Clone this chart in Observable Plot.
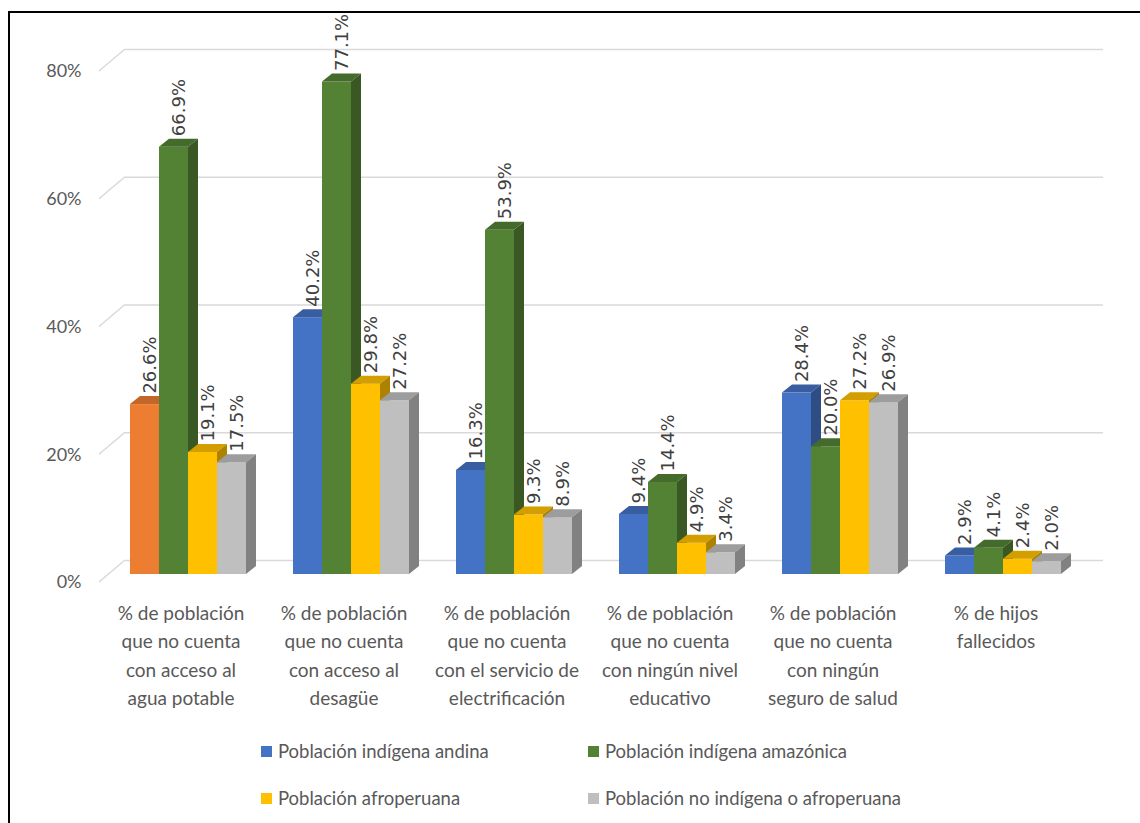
<!DOCTYPE html>
<html>
<head>
<meta charset="utf-8">
<script src="https://cdn.jsdelivr.net/npm/d3@7"></script>
<script src="https://cdn.jsdelivr.net/npm/@observablehq/plot@0.6"></script>
<style>
  html, body { margin: 0; padding: 0; background: #fff; }
  #chart { position: relative; width: 1140px; height: 823px; overflow: hidden; }
  #plot { position: absolute; left: 0; top: 0; }
  .frame-border { position: absolute; left: 8px; top: 11px; right: -10px; bottom: -10px;
    border-left: 2px solid #000; border-top: 2px solid #000; }
  .legend { position: absolute; left: 0; top: 0; font-family: Lato, sans-serif; font-size: 18.5px; color: #595959; }
  .legend .item { position: absolute; height: 24px; display: flex; align-items: center; white-space: nowrap; }
  .legend .swatch { width: 11px; height: 11px; margin-right: 6px; flex: none; }
</style>
</head>
<body>
<div id="chart">
  <div id="plot"></div>
  <div class="frame-border"></div>
  <div class="legend" id="legend"></div>
</div>
<script>
// Indicators (x categories), one multi-line label each
const categories = [
  "% de población\nque no cuenta\ncon acceso al\nagua potable",
  "% de población\nque no cuenta\ncon acceso al\ndesagüe",
  "% de población\nque no cuenta\ncon el servicio de\nelectrificación",
  "% de población\nque no cuenta\ncon ningún nivel\neducativo",
  "% de población\nque no cuenta\ncon ningún\nseguro de salud",
  "% de hijos\nfallecidos"
];

// Population groups
const series = [
  "Población indígena andina",
  "Población indígena amazónica",
  "Población afroperuana",
  "Población no indígena o afroperuana"
];

// Values (%) per group, in category order
const andina     = [26.6, 40.2, 16.3, 9.4, 28.4, 2.9];
const amazonica  = [66.9, 77.1, 53.9, 14.4, 20.0, 4.1];
const afro       = [19.1, 29.8, 9.3, 4.9, 27.2, 2.4];
const noIndigena = [17.5, 27.2, 8.9, 3.4, 26.9, 2.0];
const seriesValues = [andina, amazonica, afro, noIndigena];

// Y axis ticks
const yTicks = [0, 20, 40, 60, 80];

// Styling
const seriesColors = ["#4472C4", "#548235", "#FFC000", "#BFBFBF"];
const highlightColor = "#ED7D31";   // the andina bar for drinking water is emphasised
const gridColor = "#D9D9D9";
const WALL = {dx: 26, dy: -22};     // offset from the front plane to the back wall
const SHIFT = {dx: 9, dy: -8};      // bars stand a little behind the front plane
const DEPTH = {dx: 10, dy: -8};     // depth of each bar

const rows = categories.flatMap((category, i) =>
  series.map((s, j) => ({
    category,
    series: s,
    value: seriesValues[j][i],
    color: (i === 0 && j === 0) ? highlightColor : seriesColors[j]
  }))
);

// Bars drawn as extruded boxes: front face, top face, side face
function bars3d(data) {
  return Plot.barY(data, {
    fx: "category",
    x: "series",
    y: "value",
    render(index, scales, values) {
      const g = d3.create("svg:g");
      const bw = typeof scales.x.bandwidth === "function" ? scales.x.bandwidth() : scales.scales.x.bandwidth;
      for (const i of index) {
        const x = values.x[i] + SHIFT.dx;
        const yTop = Math.min(values.y1[i], values.y2[i]) + SHIFT.dy;
        const yBase = Math.max(values.y1[i], values.y2[i]) + SHIFT.dy;
        const base = d3.color(data[i].color);
        g.append("rect")
          .attr("x", x).attr("y", yTop)
          .attr("width", bw).attr("height", yBase - yTop)
          .attr("fill", base.formatHex());
        g.append("polygon")
          .attr("points", [[x, yTop], [x + bw, yTop], [x + bw + DEPTH.dx, yTop + DEPTH.dy], [x + DEPTH.dx, yTop + DEPTH.dy]].join(" "))
          .attr("fill", base.darker(0.55).formatHex());
        g.append("polygon")
          .attr("points", [[x + bw, yTop], [x + bw + DEPTH.dx, yTop + DEPTH.dy], [x + bw + DEPTH.dx, yBase + DEPTH.dy], [x + bw, yBase]].join(" "))
          .attr("fill", base.darker(1.1).formatHex());
      }
      return g.node();
    }
  });
}

// Short diagonals joining the front plane to the back wall, on the left edge
const wallEdges = Plot.ruleY(yTicks, {
  fx: yTicks.map(() => categories[0]),
  y: d => d,
  render(index, scales, values) {
    const g = d3.create("svg:g");
    const x0 = scales.x.range()[0];
    for (const i of index) {
      const y = values.y[i];
      g.append("path")
        .attr("d", `M${x0},${y}L${x0 + WALL.dx},${y + WALL.dy}`)
        .attr("stroke", gridColor).attr("stroke-width", 1.5).attr("fill", "none");
    }
    return g.node();
  }
});

const chart = Plot.plot({
  width: 1140,
  height: 720,
  marginLeft: 98,
  marginRight: 62,
  marginTop: 71,
  marginBottom: 138,
  style: {fontFamily: "Lato, sans-serif", fontSize: "18px", color: "#595959", background: "transparent", overflow: "visible"},
  fx: {domain: categories, paddingInner: 0, paddingOuter: 0, axis: null},
  x: {domain: series, paddingInner: 0, paddingOuter: 0.7545, align: 0.47, axis: null},
  y: {domain: [0, 80], nice: false, ticks: yTicks, tickFormat: d => d + "%", tickSize: 0, tickPadding: 18, label: null},
  marks: [
    wallEdges,
    Plot.ruleY(yTicks, {dx: WALL.dx, dy: WALL.dy, stroke: gridColor, strokeWidth: 1.5}),
    bars3d(rows),
    Plot.text(rows, {
      fx: "category", x: "series", y: "value",
      text: d => d.value.toFixed(1) + "%",
      rotate: -90, textAnchor: "start", dx: 14, dy: -19,
      fontFamily: "DejaVu Sans", fontSize: 18, fill: "#404040"
    }),
    Plot.text(categories, {
      fx: d => d, text: d => d,
      frameAnchor: "bottom", lineAnchor: "top", dy: 17, lineHeight: 1.5,
      fontSize: 19, fill: "#595959"
    })
  ]
});
document.getElementById("plot").appendChild(chart);

// Legend: two rows of two entries
const legend = d3.select("#legend");
const legendCols = [261, 588];
const legendRows = [751, 798];
series.forEach((s, j) => {
  const item = legend.append("div").attr("class", "item")
    .style("left", legendCols[j % 2] + "px")
    .style("top", (legendRows[Math.floor(j / 2)] - 12) + "px");
  item.append("div").attr("class", "swatch").style("background", seriesColors[j]);
  item.append("span").text(s);
});
</script>
</body>
</html>
